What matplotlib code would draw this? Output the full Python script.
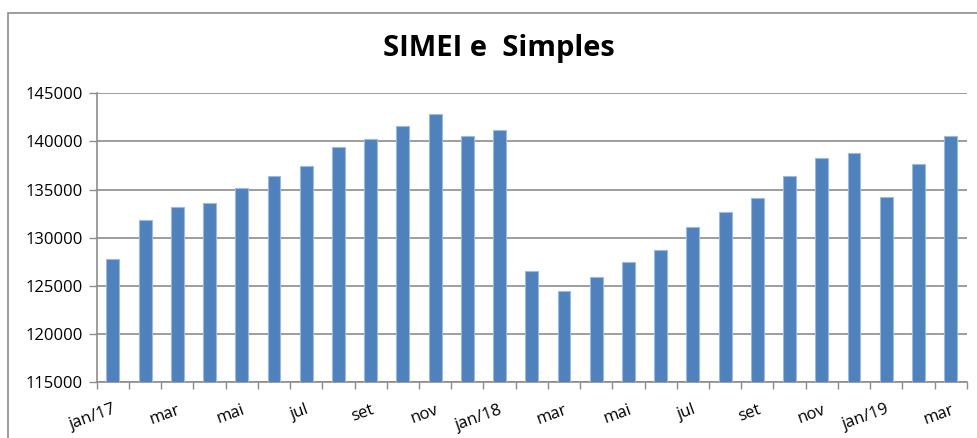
import numpy as np
import matplotlib
matplotlib.use("Agg")
import matplotlib.pyplot as plt
from matplotlib.patches import Rectangle

# dados mensais jan/17 - mar/19
meses = ["jan/17", "fev", "mar", "abr", "mai", "jun", "jul", "ago", "set", "out", "nov", "dez",
         "jan/18", "fev", "mar", "abr", "mai", "jun", "jul", "ago", "set", "out", "nov", "dez",
         "jan/19", "fev", "mar"]
valores = [127760, 131900, 133160, 133610, 135170, 136380, 137450, 139420, 140250, 141570,
           142820, 140570, 141190, 126550, 124500, 125960, 127480, 128730, 131120, 132670,
           134090, 136450, 138280, 138800, 134200, 137630, 140570]
yticks = [115000, 120000, 125000, 130000, 135000, 140000, 145000]

plt.rcParams['font.family'] = ['Open Sans', 'DejaVu Sans']

fig = plt.figure(figsize=(9.77, 4.38), dpi=100)
ax = fig.add_axes([0.099, 0.127, 0.8905, 0.66])

x = np.arange(len(valores))
ax.bar(x, valores, width=0.40, color='#4F81BD', edgecolor='#9DB9DC', linewidth=0.8, zorder=3)

ax.set_ylim(115000, 145000)
ax.set_xlim(-0.5, len(valores) - 0.5)
ax.set_yticks(yticks)
ax.set_yticklabels([str(v) for v in yticks], fontsize=12)
ax.yaxis.grid(True, color='#8C8C8C', linewidth=1.2, zorder=0)

# rotulos a cada dois meses, marcas nas divisas das categorias
ax.set_xticks(x[::2])
ax.set_xticklabels(meses[::2], fontsize=12, rotation=20, ha='right', rotation_mode='anchor')
ax.set_xticks(np.arange(-0.5, len(valores)), minor=True)
ax.tick_params(axis='x', which='major', length=0, pad=14)
ax.tick_params(axis='x', which='minor', length=5, color='#8C8C8C', width=1)
ax.tick_params(axis='y', length=6, color='#8C8C8C', width=1, pad=4)

for s in ['top', 'right']:
    ax.spines[s].set_visible(False)
for s in ['left', 'bottom']:
    ax.spines[s].set_color('#8C8C8C')
    ax.spines[s].set_linewidth(1.2)

fig.text(0.511, 0.89, "SIMEI e  Simples", ha='center', va='center', fontsize=21, fontweight='bold')

# moldura do grafico
fig.patches.append(Rectangle((8 / 977, -0.1), 1.2, 1.1 - 13 / 438, transform=fig.transFigure,
                             fill=False, edgecolor='#8C8C8C', linewidth=1.2))

fig.savefig("out.png", dpi=100)
